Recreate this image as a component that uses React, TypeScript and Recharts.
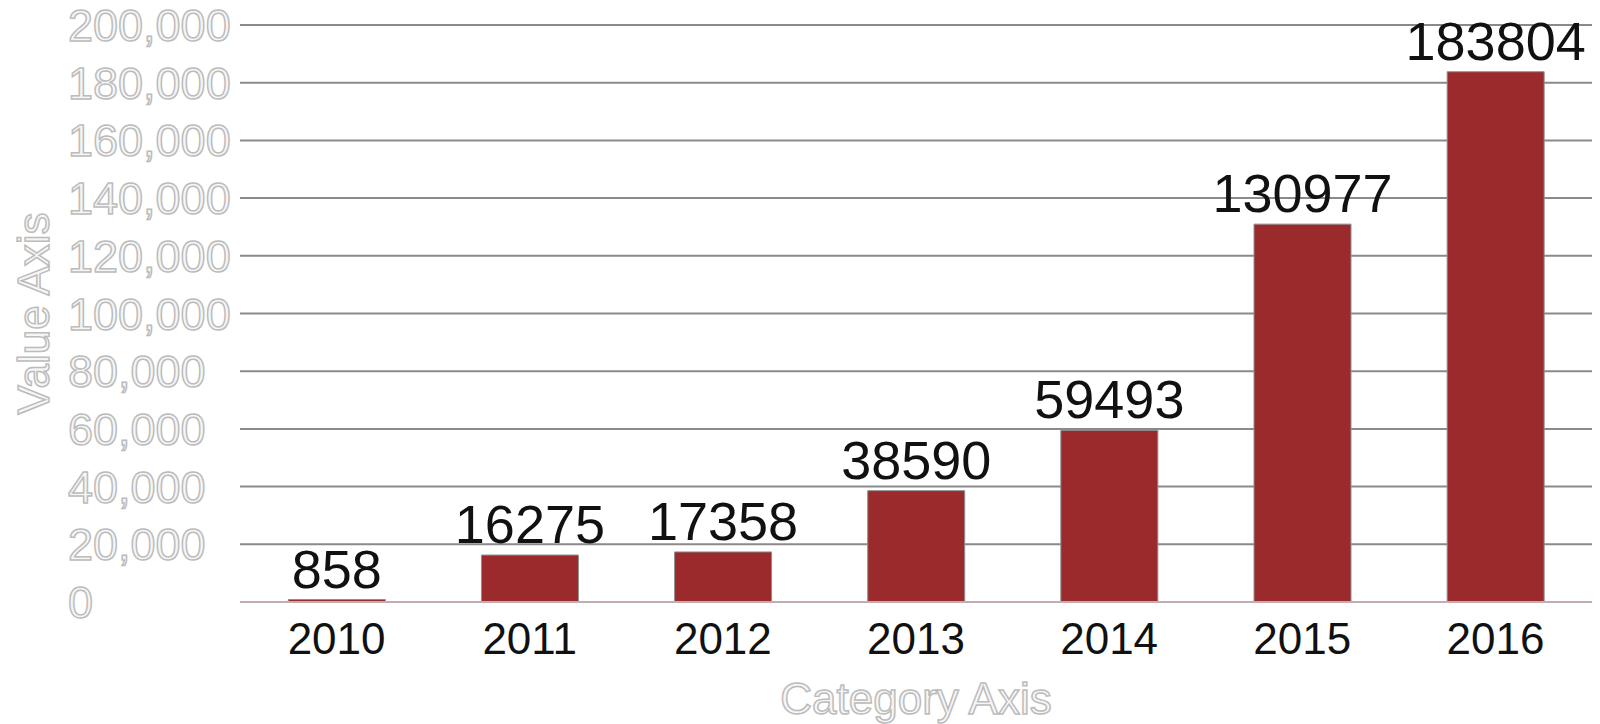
import { Bar, BarChart, CartesianGrid, LabelList, XAxis, YAxis } from 'recharts';

// Yearly values
const years = ['2010', '2011', '2012', '2013', '2014', '2015', '2016'];
const values = [858, 16275, 17358, 38590, 59493, 130977, 183804];
const yTicks = [0, 20000, 40000, 60000, 80000, 100000, 120000, 140000, 160000, 180000, 200000];

const data = years.map((year, i) => ({ year, value: values[i] }));

const FONT = '"Liberation Sans", Arial, sans-serif';
const OUTLINE_FILL = '#f6f6f6';
const OUTLINE_STROKE = '#bcbcbc';

const fmt = (v: number) => v.toLocaleString('en-US');

// y labels are left aligned in the source, starting ~162px left of the plot
function YTick({ x, y, payload }: any) {
  return (
    <text
      x={x - 162}
      y={y}
      dy={16}
      textAnchor="start"
      fontFamily={FONT}
      fontSize={45}
      fill={OUTLINE_FILL}
      stroke={OUTLINE_STROKE}
      strokeWidth={1.5}
    >
      {fmt(payload.value)}
    </text>
  );
}

function XTick({ x, y, payload }: any) {
  return (
    <text x={x} y={y} dy={44} textAnchor="middle" fontFamily={FONT} fontSize={44} fill="#111">
      {payload.value}
    </text>
  );
}

export default function App() {
  return (
    <div style={{ position: 'absolute', left: 0, top: 0, width: 1600, height: 724, background: '#fff' }}>
      <BarChart
        width={1600}
        height={724}
        data={data}
        margin={{ top: 25, right: 8, left: 0, bottom: 0 }}
        barCategoryGap="25%"
      >
        <CartesianGrid vertical={false} stroke="#8a8a8a" strokeWidth={2} />
        <XAxis
          dataKey="year"
          height={122}
          axisLine={{ stroke: '#c4adb0', strokeWidth: 2 }}
          tickLine={false}
          tick={<XTick />}
          interval={0}
          label={{
            value: 'Category Axis',
            position: 'insideBottom',
            offset: 10,
            fontFamily: FONT,
            fontSize: 44,
            fill: OUTLINE_FILL,
            stroke: OUTLINE_STROKE,
            strokeWidth: 1.5,
          }}
        />
        <YAxis
          width={240}
          domain={[0, 200000]}
          ticks={yTicks}
          axisLine={false}
          tickLine={false}
          tickMargin={4}
          tick={<YTick />}
          label={{
            value: 'Value Axis',
            angle: -90,
            position: 'insideLeft',
            offset: 33,
            style: { textAnchor: 'middle' },
            fontFamily: FONT,
            fontSize: 44,
            fill: OUTLINE_FILL,
            stroke: OUTLINE_STROKE,
            strokeWidth: 1.5,
          }}
        />
        <Bar dataKey="value" fill="#9a2a2c" stroke="#8f8f8f" strokeWidth={1} isAnimationActive={false}>
          <LabelList dataKey="value" position="top" offset={12} fontFamily={FONT} fontSize={54} fill="#111" />
        </Bar>
      </BarChart>
    </div>
  );
}
